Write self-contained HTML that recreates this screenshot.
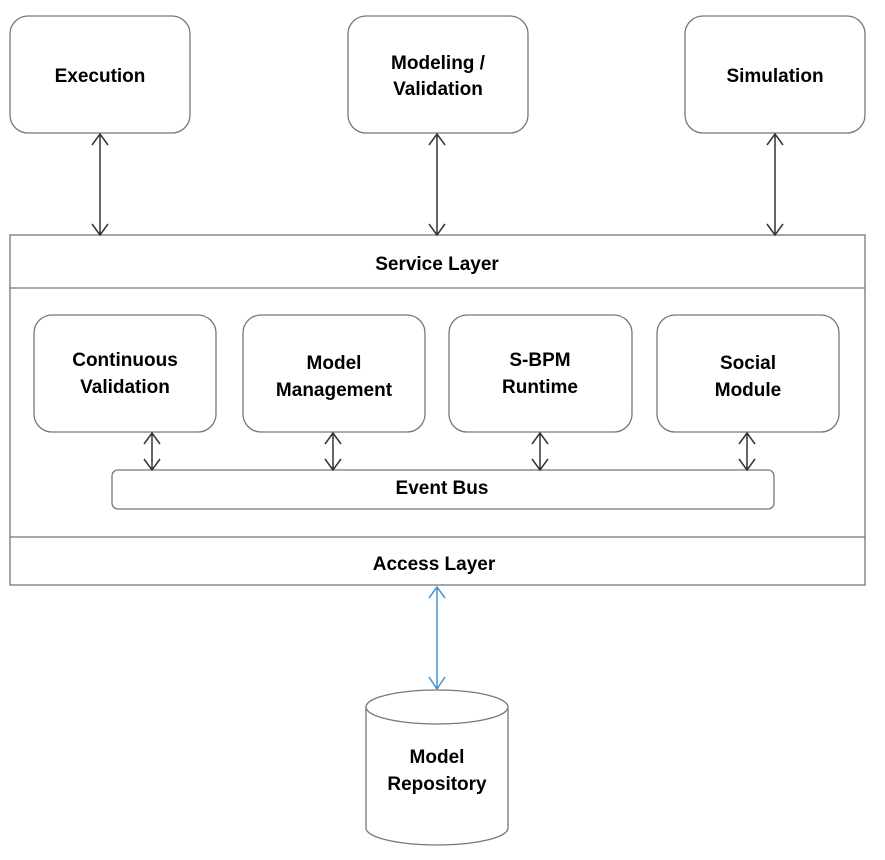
<!DOCTYPE html>
<html><head><meta charset="utf-8"><style>
html,body{margin:0;padding:0;background:#fff;}
svg text{font-family:"Liberation Sans",Arial,sans-serif;font-weight:bold;font-size:19px;fill:#000;text-anchor:middle;}
</style></head><body>
<svg width="885" height="855" viewBox="0 0 885 855" xmlns="http://www.w3.org/2000/svg">
<g fill="#fff" stroke="#777" stroke-width="1.3">
<rect x="10" y="16" width="180" height="117" rx="18"/>
<rect x="348" y="16" width="180" height="117" rx="18"/>
<rect x="685" y="16" width="180" height="117" rx="18"/>
<rect x="10" y="235" width="855" height="350"/>
<line x1="10" y1="288" x2="865" y2="288"/>
<line x1="10" y1="537" x2="865" y2="537"/>
<rect x="34" y="315" width="182" height="117" rx="18"/>
<rect x="243" y="315" width="182" height="117" rx="18"/>
<rect x="449" y="315" width="183" height="117" rx="18"/>
<rect x="657" y="315" width="182" height="117" rx="18"/>
<rect x="112" y="470" width="662" height="39" rx="6"/>
<path d="M366 707 L366 828 A71 17 0 0 0 508 828 L508 707"/>
<ellipse cx="437" cy="707" rx="71" ry="17"/>
</g>
<g stroke="#333" stroke-width="1.5" fill="none">
<path d="M100 134V234M92 145L100 134L108 145M92 224L100 235L108 224"/>
<path d="M437 134V234M429 145L437 134L445 145M429 224L437 235L445 224"/>
<path d="M775 134V234M767 145L775 134L783 145M767 224L775 235L783 224"/>
<path d="M152 433V469M144 444L152 433L160 444M144 459L152 470L160 459"/>
<path d="M333 433V469M325 444L333 433L341 444M325 459L333 470L341 459"/>
<path d="M540 433V469M532 444L540 433L548 444M532 459L540 470L548 459"/>
<path d="M747 433V469M739 444L747 433L755 444M739 459L747 470L755 459"/>
</g>
<path d="M437 587V688M429 598L437 587L445 598M429 677L437 689L445 677" stroke="#4a8fcc" stroke-width="1.5" fill="none"/>
<text x="100" y="82">Execution</text>
<text x="438" y="69">Modeling /</text>
<text x="438" y="95">Validation</text>
<text x="775" y="82">Simulation</text>
<text x="437" y="270">Service Layer</text>
<text x="125" y="366">Continuous</text>
<text x="125" y="393">Validation</text>
<text x="334" y="369">Model</text>
<text x="334" y="396">Management</text>
<text x="540" y="366">S-BPM</text>
<text x="540" y="393">Runtime</text>
<text x="748" y="369">Social</text>
<text x="748" y="396">Module</text>
<text x="442" y="494">Event Bus</text>
<text x="434" y="570">Access  Layer</text>
<text x="437" y="763">Model</text>
<text x="437" y="790">Repository</text>
</svg>
</body></html>
